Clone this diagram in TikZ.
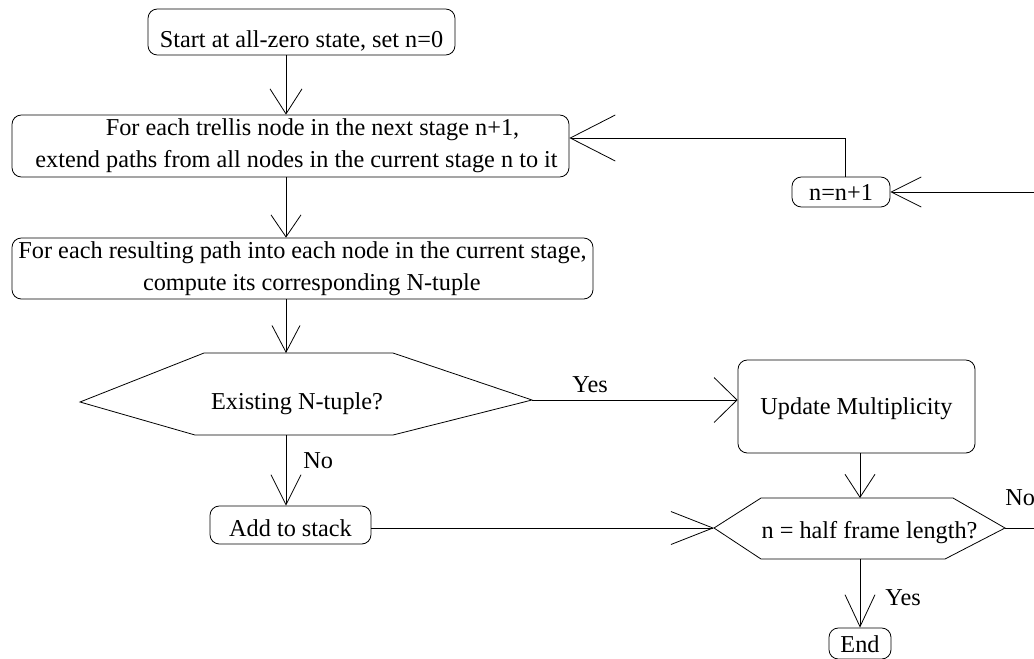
\documentclass[tikz,border=0pt]{standalone}
\usepackage{fontspec}
\setmainfont{Liberation Serif}
\usetikzlibrary{arrows.meta}
\begin{document}
\begin{tikzpicture}[x=0.75pt,y=-0.75pt,line width=0.6pt,
  font=\fontsize{18.2}{24}\selectfont,
  box/.style={draw,rounded corners=7pt,inner sep=0pt,align=center},
  txt/.style={inner sep=0pt},
  lbl/.style={inner sep=0pt,anchor=base west},
  arw/.style 2 args={-{Straight Barb[length=#1,width=#2]}}]
\useasboundingbox (0,0) rectangle (1034,658);
\clip (0,0) rectangle (1034,658);

% guide columns / rows
\coordinate (cA) at (286,0);
\coordinate (cB) at (860,0);
\coordinate (cN) at (845,0);
\coordinate (rT) at (0,138);
\coordinate (rL) at (0,192);
\coordinate (xR) at (1060,0);

% boxes
\node[box,anchor=base,minimum width=230.25pt,text height=28.5pt,text depth=6pt]
  (start) at (301.5,47) {Start at all-zero state, set n=0};
\node[box,minimum width=417.75pt,minimum height=46.5pt]
  (ext) at (290.5,146) {\hspace*{33pt}For each trellis node in the next stage n+1,\\\hspace*{9pt}extend paths from all nodes in the current stage n to it};
\node[box,minimum width=435.75pt,minimum height=45.75pt]
  (comp) at (302.5,268.5) {For each resulting path into each node in the current stage,\\\hspace*{14pt}compute its corresponding N-tuple};
\node[box,anchor=base,minimum width=177.75pt,text height=40.5pt,text depth=29.25pt]
  (upd) at (856.5,414) {Update Multiplicity};
\node[box,anchor=base,minimum width=120.75pt,text height=22.5pt,text depth=6pt]
  (add) at (290.5,536) {Add to stack};
\node[box,anchor=base,minimum width=73.5pt,text height=17.25pt,text depth=5.25pt]
  (nn) at (841,200) {n=n+1};
\node[box,anchor=base,minimum width=46.5pt,text height=18pt,text depth=5.25pt]
  (end) at (860,652) {End};

% hexagon 1
\coordinate (h1L) at (80,402);
\coordinate (h1TL) at (204,353);
\coordinate (h1TR) at (393,353);
\coordinate (h1R) at (532,400);
\coordinate (h1BR) at (393,435);
\coordinate (h1BL) at (195,435);
\draw (h1L) -- (h1TL) -- (h1TR) -- (h1R) -- (h1BR) -- (h1BL) -- cycle;
\node[txt,anchor=base] (q1) at (297,409) {Existing N-tuple?};

% hexagon 2
\coordinate (h2L) at (714,528);
\coordinate (h2TL) at (761,498);
\coordinate (h2TR) at (953,498);
\coordinate (h2R) at (1005,528);
\coordinate (h2BR) at (945,559);
\coordinate (h2BL) at (761,559);
\draw (h2L) -- (h2TL) -- (h2TR) -- (h2R) -- (h2BR) -- (h2BL) -- cycle;
\node[txt,anchor=base] (q2) at (869.5,538) {n = half frame length?};

% connectors
\draw[arw={18.75pt}{24pt}] (start.south -| cA) -- (ext.north -| cA);
\draw[arw={16.5pt}{22.5pt}] (ext.south -| cA) -- (comp.north -| cA);
\draw[arw={20pt}{21pt}] (comp.south -| cA) -- (h1TL -| cA);
\draw[arw={22.5pt}{22.5pt}] (h1BL -| cA) -- (add.north -| cA);
\draw[arw={17.25pt}{33.75pt}] (h1R) -- (upd.west |- h1R);
\draw[arw={31.5pt}{24.75pt}] (add.east |- h2L) -- (h2L);
\draw[arw={17.25pt}{22.5pt}] (upd.south -| cB) -- (h2TL -| cB);
\draw[arw={24pt}{22.5pt}] (h2BL -| cB) -- (end.north -| cB);
\draw[arw={22.5pt}{22.5pt}] (h2R) -- (h2R -| xR) -- (xR |- rL) -- (nn.east |- rL);
\draw[arw={33.75pt}{34.5pt}] (nn.north -| cN) -- (cN |- rT) -- (ext.east |- rT);

% labels
\node[lbl] (yes1) at (572,392) {Yes};
\node[lbl] (no1) at (303,468) {No};
\node[lbl] (no2) at (1005,505) {No};
\node[lbl] (yes2) at (885,605) {Yes};
\end{tikzpicture}
\end{document}
